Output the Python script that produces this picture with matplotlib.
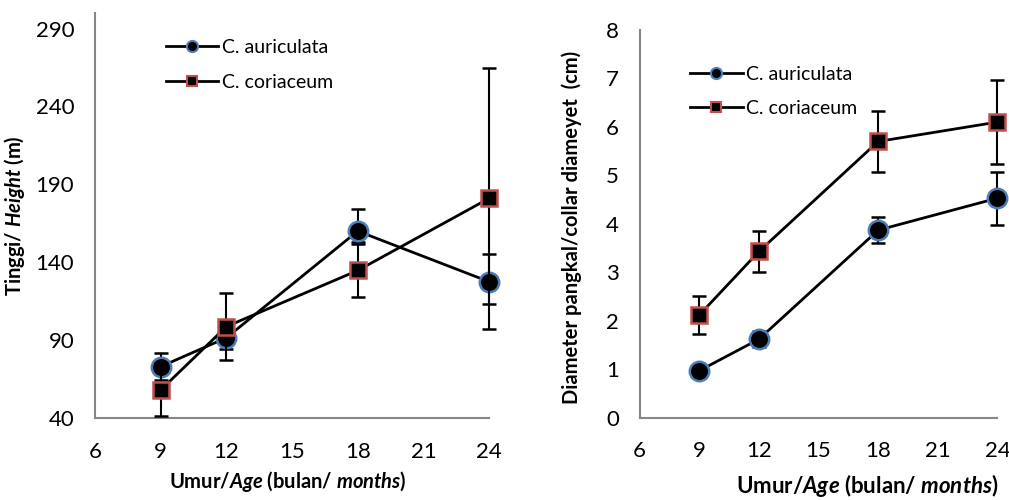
import matplotlib
matplotlib.use("Agg")
import matplotlib.pyplot as plt
from matplotlib.lines import Line2D

plt.rcParams['font.family'] = ['Lato', 'DejaVu Sans']
plt.rcParams['mathtext.fontset'] = 'custom'
plt.rcParams['mathtext.rm'] = 'Lato:bold'
plt.rcParams['mathtext.bf'] = 'Lato:bold'
plt.rcParams['mathtext.it'] = 'Lato:bold:italic'

months = [9, 12, 18, 24]
series_names = ["C. auriculata", "C. coriaceum"]

# Left: height
height_aur = [73, 91.5, 160, 127.5]
height_aur_err_low = [8.6, 7, 7, 14]
height_aur_err_high = [8.6, 7, 14, 17.6]
height_cor = [58, 98.7, 134.7, 181]
height_cor_err = [17, 21.5, 16.7, 84]

# Right: collar diameter
diam_aur = [0.97, 1.62, 3.87, 4.53]
diam_aur_err = [0.05, 0.17, 0.27, 0.55]
diam_cor = [2.12, 3.43, 5.70, 6.10]
diam_cor_err = [0.40, 0.43, 0.63, 0.87]

x_ticks = [6, 9, 12, 15, 18, 21, 24]
left_yticks = [40, 90, 140, 190, 240, 290]
right_yticks = [0, 1, 2, 3, 4, 5, 6, 7, 8]

blue_edge = '#4a7ebb'
red_edge = '#c0504d'
axis_grey = '#868686'

fig = plt.figure(figsize=(10.09, 5.0), dpi=100)
ax1 = fig.add_axes([0.0942, 0.164, 0.3905, 0.81])
ax2 = fig.add_axes([0.634, 0.1646, 0.3545, 0.7754])

def style(ax):
    for s in ['top', 'right']:
        ax.spines[s].set_visible(False)
    for s in ['left', 'bottom']:
        ax.spines[s].set_color(axis_grey)
        ax.spines[s].set_linewidth(1.5)
    ax.tick_params(length=0, labelsize=16)
    ax.tick_params(axis='y', pad=15)
    ax.tick_params(axis='x', pad=17)
    ax.set_xticks(x_ticks)
    ax.set_xlim(6, 24)

def plot_series(ax, y, yerr, marker, ms, edge, z):
    ax.errorbar(months, y, yerr=yerr, color='black', lw=2, marker=marker,
                ms=ms, mfc='black', mec=edge, mew=1.8, ecolor='black',
                elinewidth=1.5, capsize=5, capthick=1.5, zorder=z, clip_on=False)

style(ax1)
plot_series(ax1, height_aur, [height_aur_err_low, height_aur_err_high], 'o', 14, blue_edge, 3)
plot_series(ax1, height_cor, height_cor_err, 's', 11, red_edge, 4)
ax1.set_ylim(40, 300)
ax1.set_yticks(left_yticks)
ax1.set_ylabel("Tinggi/ $\\mathit{Height}$ (m)", fontsize=14.5, fontweight='bold')
ax1.yaxis.set_label_coords(-0.173, 0.5)
ax1.set_xlabel("Umur/$\\mathit{Age}$ (bulan/ $\\mathit{months}$)", fontsize=14.5, fontweight='bold')
ax1.xaxis.set_label_coords(0.49, -0.125)

style(ax2)
plot_series(ax2, diam_aur, diam_aur_err, 'o', 14, blue_edge, 3)
plot_series(ax2, diam_cor, diam_cor_err, 's', 11, red_edge, 4)
ax2.set_ylim(0, 8)
ax2.set_yticks(right_yticks)
ax2.set_ylabel("Diameter pangkal/collar diameyet  (cm)", fontsize=14.5, fontweight='bold')
ax2.yaxis.set_label_coords(-0.162, 0.49)
ax2.set_xlabel("Umur/$\\mathit{Age}$ (bulan/ $\\mathit{months}$)", fontsize=16, fontweight='bold')
ax2.xaxis.set_label_coords(0.635, -0.14)

handles = [
    Line2D([0], [0], color='black', lw=2, marker='o', ms=8, mfc='black', mec=blue_edge, mew=1.5),
    Line2D([0], [0], color='black', lw=2, marker='s', ms=7, mfc='black', mec=red_edge, mew=1.5),
]
for ax, loc in [(ax1, (0.17, 0.945)), (ax2, (0.13, 0.918))]:
    ax.legend(handles, series_names, loc='upper left', bbox_to_anchor=loc,
              frameon=False, fontsize=14, handlelength=2.7, handletextpad=0.2,
              labelspacing=0.9, borderaxespad=0, borderpad=0.2)

fig.savefig("out.png", dpi=100)
